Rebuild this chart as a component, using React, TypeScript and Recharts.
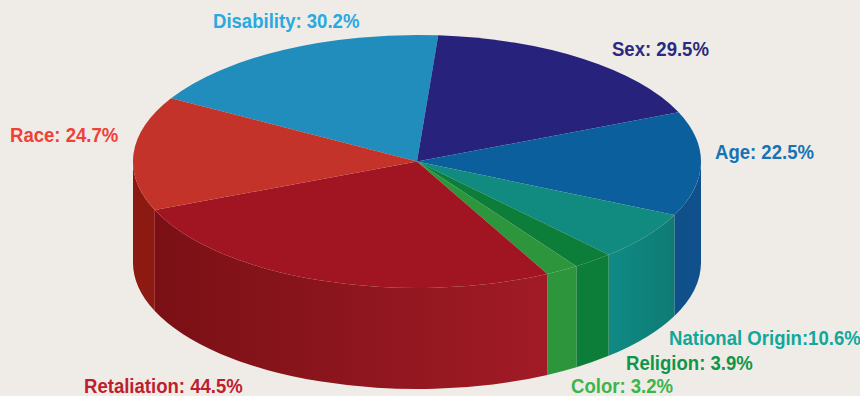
import React from "react";
import { PieChart, Pie, Cell } from "recharts";

const categories = ["Disability", "Sex", "Age", "National Origin", "Religion", "Color", "Retaliation", "Race"];
const shares = [30.2, 29.5, 22.5, 10.6, 3.9, 3.2, 44.5, 24.7];
const separators = [": ", ": ", ": ", ":", ": ", ": ", ": ", ": "];

const topColors = ["#218dbd", "#27227b", "#0c5f9d", "#118a80", "#0d7d3a", "#2d963c", "#a11422", "#c33329"];
const wallFrom = ["#1a7099", "#1d1a60", "#0f4f8a", "#108a85", "#0d7d3a", "#2d963c", "#7a1015", "#8c1a12"];
const wallTo = ["#1a7099", "#1d1a60", "#10508c", "#0e7c74", "#0d7d3a", "#2d963c", "#a11b26", "#8c1a12"];
const labelColors = ["#2aa9e0", "#2b2a80", "#1673b5", "#12a79b", "#0f9648", "#3db54a", "#be1e2d", "#ef4136"];

const WIDTH = 860;
const HEIGHT = 396;
const CX = 417;
const CY = 161.5;
const RADIUS_X = 284;
const RADIUS_Y = 126.5;
const DEPTH = 101;
const LABEL_SQUEEZE = 0.905;

// Where each label's text starts, in category order.
const labelAnchors: [number, number][] = [
  [213, 28], [612, 56], [715, 159], [669, 345], [626, 370], [571, 393], [84, 393], [10, 142],
];

const rad = (deg: number) => (deg * Math.PI) / 180;
const px = (deg: number) => CX + RADIUS_X * Math.cos(rad(deg));
const py = (deg: number) => CY - RADIUS_Y * Math.sin(rad(deg));

// Top face of a slice as an elliptical wedge, with the cylinder wall below its front arc.
function TiltedSlice(props: any) {
  const { startAngle, endAngle, index } = props;
  const hi = Math.max(startAngle, endAngle);
  const lo = Math.min(startAngle, endAngle);
  const large = hi - lo > 180 ? 1 : 0;
  const top = `M${CX},${CY} L${px(hi)},${py(hi)} A${RADIUS_X},${RADIUS_Y} 0 ${large} 1 ${px(lo)},${py(lo)} Z`;

  // The wall exists only where the arc lies in the lower half of the ellipse (180..360 degrees).
  const walls: React.ReactNode[] = [];
  for (const shift of [-360, 0, 360]) {
    const from = Math.min(hi + shift, 360);
    const to = Math.max(lo + shift, 180);
    if (from > to) {
      const arcLarge = from - to > 180 ? 1 : 0;
      const d =
        `M${px(from)},${py(from)} A${RADIUS_X},${RADIUS_Y} 0 ${arcLarge} 1 ${px(to)},${py(to)} ` +
        `L${px(to)},${py(to) + DEPTH} A${RADIUS_X},${RADIUS_Y} 0 ${arcLarge} 0 ${px(from)},${py(from) + DEPTH} Z`;
      walls.push(<path key={shift} d={d} fill={`url(#wall-${index})`} />);
    }
  }
  return (
    <g>
      {walls}
      <path d={top} fill={topColors[index]} />
    </g>
  );
}

function SliceLabel(props: any) {
  const { index } = props;
  const [x, y] = labelAnchors[index];
  return (
    <text
      transform={`translate(${x} ${y}) scale(${LABEL_SQUEEZE} 1)`}
      x={0}
      y={0}
      fill={labelColors[index]}
      fontFamily="'Liberation Sans', sans-serif"
      fontWeight={700}
      fontSize={20.5}
      textAnchor="start"
    >
      {`${categories[index]}${separators[index]}${shares[index].toFixed(1)}%`}
    </text>
  );
}

const rows = categories.map((name, i) => ({ name, value: shares[i] }));

export default function App() {
  return (
    <div style={{ position: "absolute", left: 0, top: 0, width: WIDTH, height: HEIGHT, background: "#efece8" }}>
      <PieChart width={WIDTH} height={HEIGHT} margin={{ top: 0, right: 0, bottom: 0, left: 0 }}>
        <defs>
          {categories.map((_, i) => (
            <linearGradient key={i} id={`wall-${i}`} x1="0" y1="0" x2="1" y2="0">
              <stop offset="0%" stopColor={wallFrom[i]} />
              <stop offset="100%" stopColor={wallTo[i]} />
            </linearGradient>
          ))}
        </defs>
        <Pie
          data={rows}
          dataKey="value"
          nameKey="name"
          cx={CX}
          cy={CY}
          innerRadius={0}
          outerRadius={RADIUS_X}
          startAngle={150}
          endAngle={-210}
          stroke="none"
          isAnimationActive={false}
          shape={TiltedSlice}
          label={SliceLabel}
          labelLine={false}
        >
          {rows.map((r, i) => (
            <Cell key={r.name} fill={topColors[i]} />
          ))}
        </Pie>
      </PieChart>
    </div>
  );
}
